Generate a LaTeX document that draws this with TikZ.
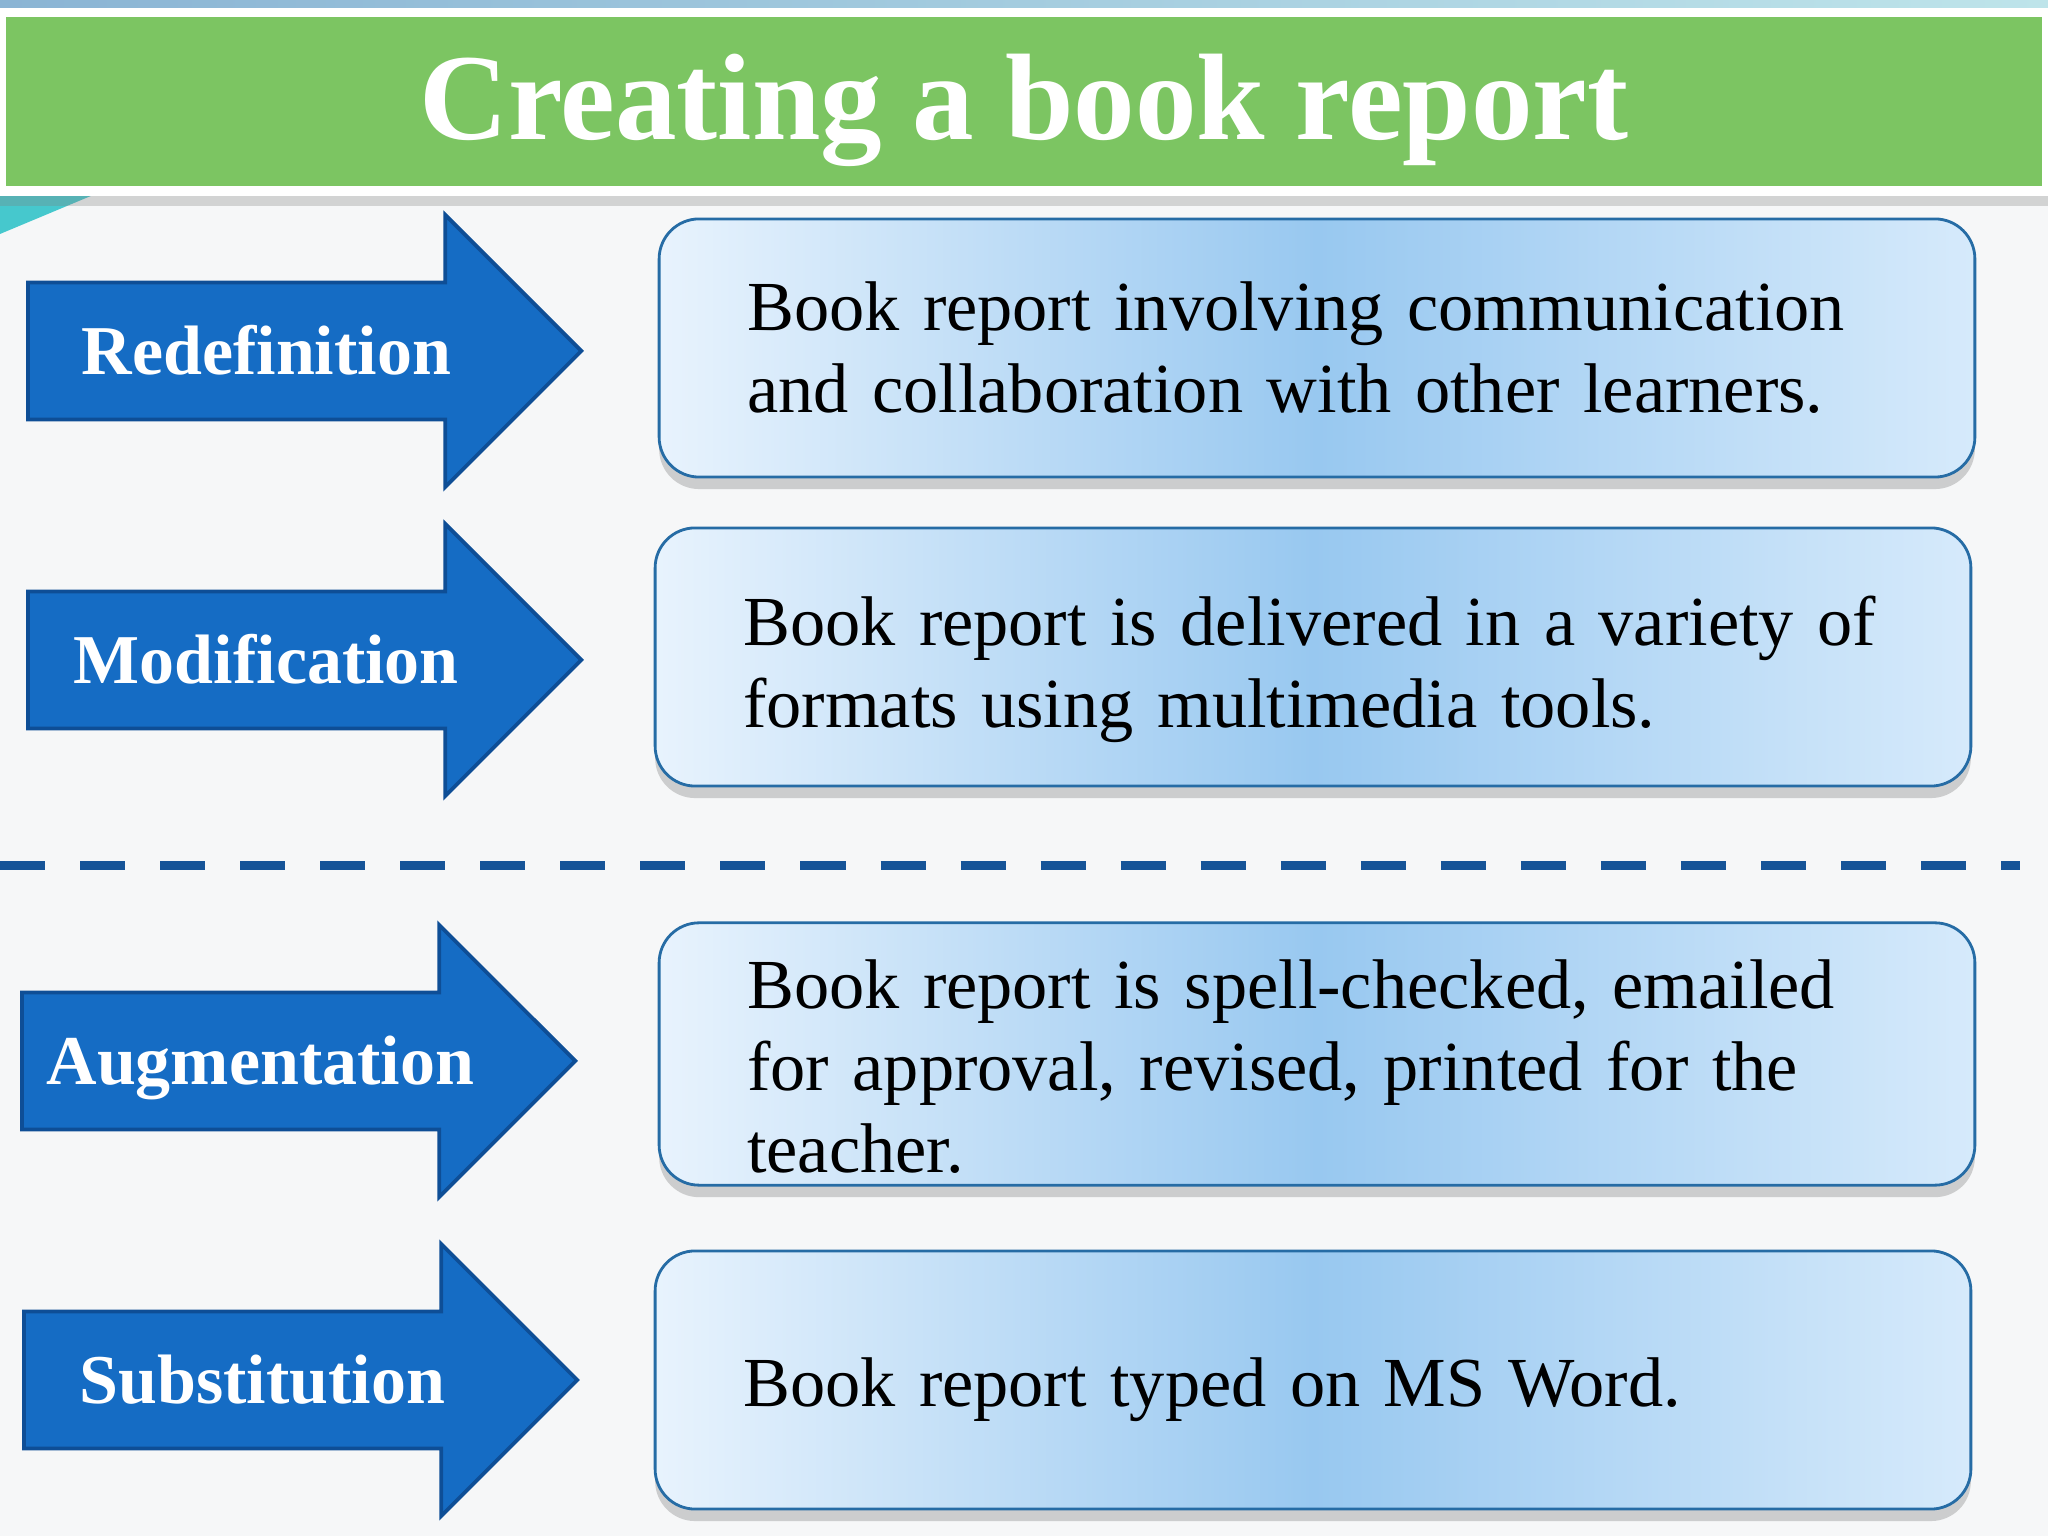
\documentclass[tikz,border=0pt]{standalone}
\usepackage{fontspec}
\setmainfont{Liberation Serif}
\usetikzlibrary{shapes.arrows,shadows}

\definecolor{pagebg}{RGB}{246,247,248}
\definecolor{titlegreen}{RGB}{124,197,98}
\definecolor{arrowblue}{RGB}{21,108,196}
\definecolor{arrowedge}{RGB}{14,78,150}
\definecolor{boxedge}{RGB}{38,108,165}
\definecolor{boxlight}{RGB}{232,243,253}
\definecolor{boxmid}{RGB}{152,200,240}
\definecolor{boxright}{RGB}{214,234,251}
\definecolor{dashblue}{RGB}{22,84,152}
\definecolor{stripblue}{RGB}{138,180,212}
\definecolor{stripcyan}{RGB}{190,228,234}
\definecolor{swoosh}{RGB}{70,200,205}

\begin{document}
\begin{tikzpicture}[x=0.01cm,y=0.01cm,
  levelarrow/.style={single arrow,draw=arrowedge,fill=arrowblue,line width=1.1pt,
    minimum height=5.53cm,minimum width=2.68cm,single arrow head extend=0.675cm,
    text height=0.6cm,text depth=0.14cm,inner xsep=0pt,inner ysep=0.295cm,
    anchor=tail,text=white,font=\fontsize{19.9}{22}\selectfont\bfseries},
  taskbox/.style={rectangle,rounded corners=0.4cm,draw=boxedge,line width=0.8pt,
    left color=boxlight,right color=boxright,middle color=boxmid,
    minimum width=13.15cm,minimum height=2.58cm,text width=11.39cm,align=left,
    font=\fontsize{20}{23.3}\selectfont,
    drop shadow={shadow xshift=0pt,shadow yshift=-1.2mm,opacity=0.35}}]
\useasboundingbox (0,0) rectangle (2048,1536);

% Page and title bar
\fill[pagebg] (0,0) rectangle (2048,1536);
\fill[left color=stripblue,right color=stripcyan] (0,1528) rectangle (2048,1536);
\fill[swoosh] (0,1343) -- (98,1343) -- (0,1302) -- cycle;
\fill[white,drop shadow={shadow xshift=0pt,shadow yshift=-1mm,opacity=0.3}] (0,1340) rectangle (2048,1528);
\fill[titlegreen] (6,1350) rectangle (2042,1519);
\node[text=white,font=\fontsize{35}{40}\selectfont\bfseries,anchor=base] (title) at (1024,1396) {Creating a book report};

% Levels
\node[levelarrow] (redef) at (26,1185) {Redefinition\hspace*{0.08cm}};
\node[levelarrow] (modif) at (26,876) {Modification\hspace*{0.08cm}};
\node[levelarrow] (augm) at (20,475) {Augmentation\hspace*{0.08cm}};
\node[levelarrow] (subst) at (22,156) {Substitution\hspace*{0.08cm}};

% Divider
\draw[dashblue,line width=0.09cm,dash pattern=on 0.45cm off 0.35cm] (0,670) -- (2020,670);

% Task boxes
\node[taskbox] (redefbox) at (1317,1188) {Book report involving communication\\and collaboration with other learners.};
\node[taskbox] (modifbox) at (1313,879) {\rule{0pt}{0.74cm}Book report is delivered in a variety of\\formats using multimedia tools.};
\node[taskbox] (augmbox) at (1317,482) {\rule{0pt}{0.74cm}Book report is spell-checked, emailed\\for approval, revised, printed for the\\teacher.};
\node[taskbox] (substbox) at (1313,156) {\rule{0pt}{0.68cm}Book report typed on MS Word.};
\end{tikzpicture}
\end{document}
